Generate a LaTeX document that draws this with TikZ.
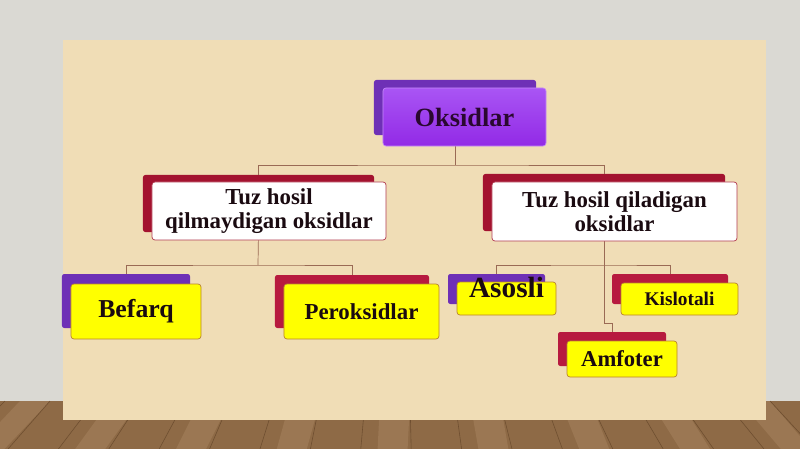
\documentclass[tikz,border=0pt]{standalone}
\usepackage{fontspec}
\setmainfont{Liberation Serif}
\usepackage{tikz}
\usetikzlibrary{calc}

\definecolor{wallgray}{HTML}{DAD9D3}
\definecolor{floorbrown}{HTML}{8E6A46}
\definecolor{plankdark}{HTML}{6E4E30}
\definecolor{planklight}{HTML}{A88560}
\definecolor{parchment}{HTML}{F0DDB6}
\definecolor{violback}{HTML}{6E30B6}
\definecolor{violtop}{HTML}{A955F4}
\definecolor{violbot}{HTML}{922AE6}
\definecolor{redback}{HTML}{A3122F}
\definecolor{crimback}{HTML}{B71A3F}
\definecolor{boxyellow}{HTML}{FFFF00}
\definecolor{yellowedge}{HTML}{B98330}
\definecolor{whiteedge}{HTML}{B23A4E}
\definecolor{linebrown}{HTML}{9A6A55}
\definecolor{inkdark}{HTML}{1A0A10}

\tikzset{
  back/.style={rectangle, rounded corners=2pt, inner sep=0pt},
  face/.style={rectangle, rounded corners=2.5pt, inner sep=0pt, align=center,
    font=\bfseries, text=inkdark, line width=0.6pt},
  yface/.style={face, fill=boxyellow, draw=yellowedge},
  wface/.style={face, fill=white, draw=whiteedge},
  size/.style 2 args={minimum width=#1cm, minimum height=#2cm},
  conn/.style={draw=linebrown, line width=0.6pt}
}

\begin{document}
\begin{tikzpicture}[x=0.03cm, y=-0.03cm]
  \useasboundingbox (0,0) rectangle (800,449);
  % wall, floor and board
  \fill[wallgray] (0,0) rectangle (800,449);
  \fill[floorbrown] (0,401) rectangle (800,449);
  \foreach \x in {20,110,200,290,380,470,560,650,740}
    \fill[planklight, opacity=0.5] (\x,401) -- (\x+30,401) -- ({\x+30+(\x-400)*0.12},449) -- ({\x+(\x-400)*0.12},449) -- cycle;
  \foreach \x in {5,50,95,140,185,230,275,320,365,410,455,500,545,590,635,680,725,770}
    \draw[plankdark, line width=0.5pt] (\x,401) -- ({\x+(\x-400)*0.12},449);
  \fill[parchment] (63,40) rectangle (766,420);

  % junction points
  \coordinate (j1) at (455,165);
  \coordinate (j2) at (258,265);
  \coordinate (j3) at (604,265);
  \coordinate (j4) at (604,323);

  % back boxes
  \node[back, size={4.86}{1.65}, fill=violback] (oksB) at (455,107.5) {};
  \node[back, size={6.93}{1.71}, fill=redback] (tzqB) at (258.5,203.5) {};
  \node[back, size={7.26}{1.71}, fill=redback] (tzB) at (604,202.5) {};
  \node[back, size={3.84}{1.62}, fill=violback] (befB) at (126,301) {};
  \node[back, size={4.62}{1.59}, fill=crimback] (perB) at (352,301.5) {};
  \node[back, size={2.91}{0.90}, fill=violback] (asoB) at (496.5,289) {};
  \node[back, size={3.48}{0.90}, fill=crimback] (kisB) at (670,289) {};
  \node[back, size={3.24}{1.02}, fill=crimback] (amfB) at (612,349) {};

  % connectors
  \draw[conn] (oksB.south) -- (j1);
  \draw[conn] (tzqB.north) |- (j1) -| (tzB.north);
  \draw[conn] (tzqB.south) -- (j2);
  \draw[conn] (befB.north) |- (j2) -| (perB.north);
  \draw[conn] (tzB.south) -- (j3);
  \draw[conn] (asoB.north) |- (j3) -| (kisB.north);
  \draw[conn] (j3) -- (j4) -| (amfB.north);

  % front boxes
  \node[face, size={4.89}{1.74}, top color=violtop, bottom color=violbot, draw=violtop!70!white,
    text={rgb,255:red,42;green,8;blue,48}, font=\bfseries\fontsize{22.5}{24}\selectfont] (oks) at (464.5,117) {Oksidlar};
  \node[wface, size={7.02}{1.74}, font=\bfseries\fontsize{19.5}{20.5}\selectfont] (tzq) at (269,211) {Tuz hosil\\qilmaydigan oksidlar};
  \node[wface, size={7.35}{1.77}, font=\bfseries\fontsize{19.5}{20.5}\selectfont] (tz) at (614.5,211.5) {Tuz hosil qiladigan\\oksidlar};
  \node[yface, size={3.9}{1.65}, font=\bfseries\fontsize{22}{24}\selectfont] (bef) at (136,311.5) {Befarq};
  \node[yface, size={4.65}{1.65}, font=\bfseries\fontsize{19.5}{21}\selectfont] (per) at (361.5,311.5) {Peroksidlar};
  \node[yface, size={2.97}{0.99}, font=\bfseries\fontsize{25}{26}\selectfont] (aso) at (506.5,298.5) {\raisebox{0.03cm}[0pt][0pt]{Asosli}};
  \node[yface, size={3.51}{0.96}, font=\bfseries\fontsize{16.5}{18}\selectfont] (kis) at (679.5,299) {Kislotali};
  \node[yface, size={3.3}{1.08}, font=\bfseries\fontsize{19.3}{20}\selectfont] (amf) at (622,359) {Amfoter};
\end{tikzpicture}
\end{document}
